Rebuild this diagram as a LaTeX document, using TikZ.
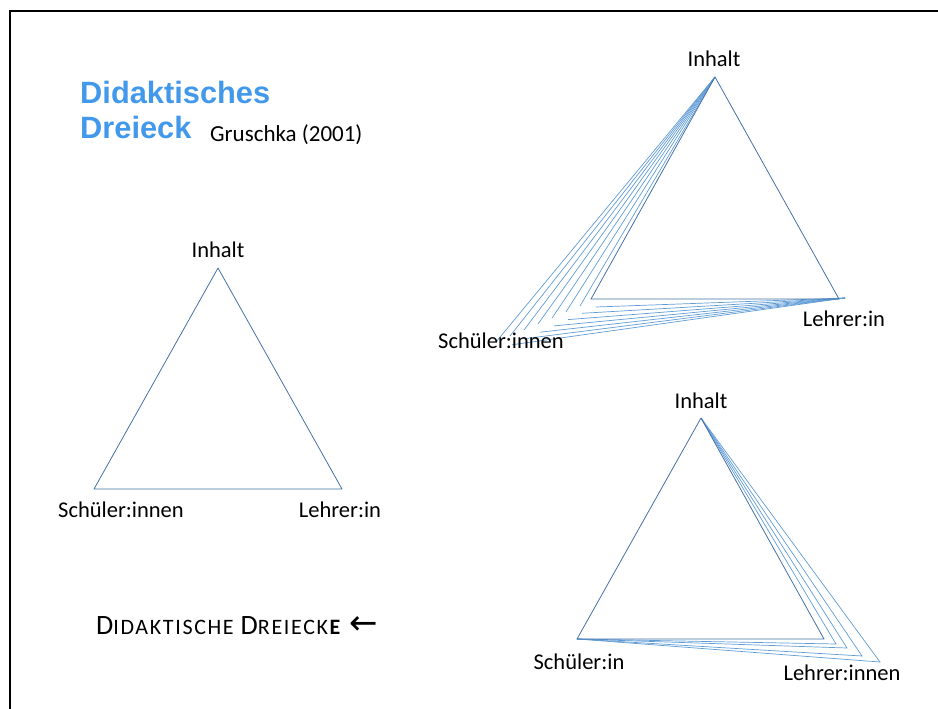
\documentclass[tikz,border=0pt]{standalone}
\usepackage{fontspec}
\setmainfont{Carlito}
\newfontfamily\titlefont{Liberation Sans}
\newfontfamily\symfont{DejaVu Sans}
\newfontfamily\capfont[LetterSpace=7.5]{Carlito}
\usetikzlibrary{positioning}
\definecolor{titleblue}{RGB}{66,153,235}
\definecolor{edgedark}{RGB}{68,114,168}
\definecolor{edgelight}{RGB}{96,156,214}
\newcommand{\capbig}[1]{{\fontsize{28}{30}\selectfont #1}}
\newcommand{\capsmall}[1]{{\fontsize{22}{24}\selectfont #1}}
\begin{document}
\begin{tikzpicture}[x=1pt,y=-1pt,
	label/.style={inner sep=0pt,anchor=base,font=\fontsize{22.5}{26}\selectfont},
	title/.style={inner sep=0pt,anchor=base west,text=titleblue,font=\titlefont\bfseries\fontsize{30.8}{34}\selectfont},
	inner/.style={draw=edgedark,line width=0.8pt,line join=round},
	fan/.style={draw=edgelight,line width=0.7pt}
]
\useasboundingbox (0,0) rectangle (938,709);
% frame
\draw[line width=2pt] (10,720) |- (950,11);

% title
\node[title] (t1) at (80,103) {Didaktisches};
\node[title] (t2) at (80,139) {Dreieck};
\node[label,anchor=base west,font=\fontsize{23}{26}\selectfont] (src) at (210,141) {Gruschka (2001)};

% left triangle
\coordinate (a) at (218,268);
\coordinate (b) at (94,489);
\coordinate (c) at (342,489);
\draw[inner] (a) -- (b) -- (c) -- cycle;
\node[label] (ai) at (218,257) {Inhalt};
\node[label] (bs) at (121,517) {Schüler:innen};
\node[label] (cl) at (340,517) {Lehrer:in};

% top right triangle, pulled towards the pupils
\coordinate (ta) at (715,77);
\coordinate (tb) at (591,299);
\coordinate (tc) at (839,299);
\coordinate (tr) at (845,298);
\foreach \k in {0,...,6}{
	\coordinate (p\k) at (580-14*\k,306+6*\k);
	\coordinate (q\k) at (596-14*\k,307+6.3*\k);
	\draw[fan] (ta) -- (p\k);
	\draw[fan] (tr) -- (q\k);
}
\draw[inner] (ta) -- (tb) -- (tc) -- cycle;
\node[label] (tai) at (714,67) {Inhalt};
\node[label] (tcl) at (844,326) {Lehrer:in};
\node[label] (tbs) at (501,348) {Schüler:innen};

% bottom right triangle, pulled towards the teachers
\coordinate (ba) at (701,418);
\coordinate (bb) at (577,639);
\coordinate (bc) at (824,639);
\foreach \x/\y [count=\n] in {836/644,847/648,862/656,880/662}{
	\coordinate (r\n) at (\x,\y);
	\draw[fan] (ba) -- (r\n) -- (bb);
}
\draw[inner] (ba) -- (bb) -- (bc) -- cycle;
\node[label] (bai) at (701,408) {Inhalt};
\node[label] (bbs) at (579,669) {Schüler:in};
\node[label] (bcl) at (842,680) {Lehrer:innen};

% caption
\node[inner sep=0pt,anchor=base west,font=\capfont] (cap) at (96,634)
	{\capbig{D}\capsmall{IDAKTISCHE}\hspace{7pt}\capbig{D}\capsmall{REIECK\textbf{E}}\hspace{7pt}{\symfont\fontsize{34}{34}\selectfont ←}};
\end{tikzpicture}
\end{document}
